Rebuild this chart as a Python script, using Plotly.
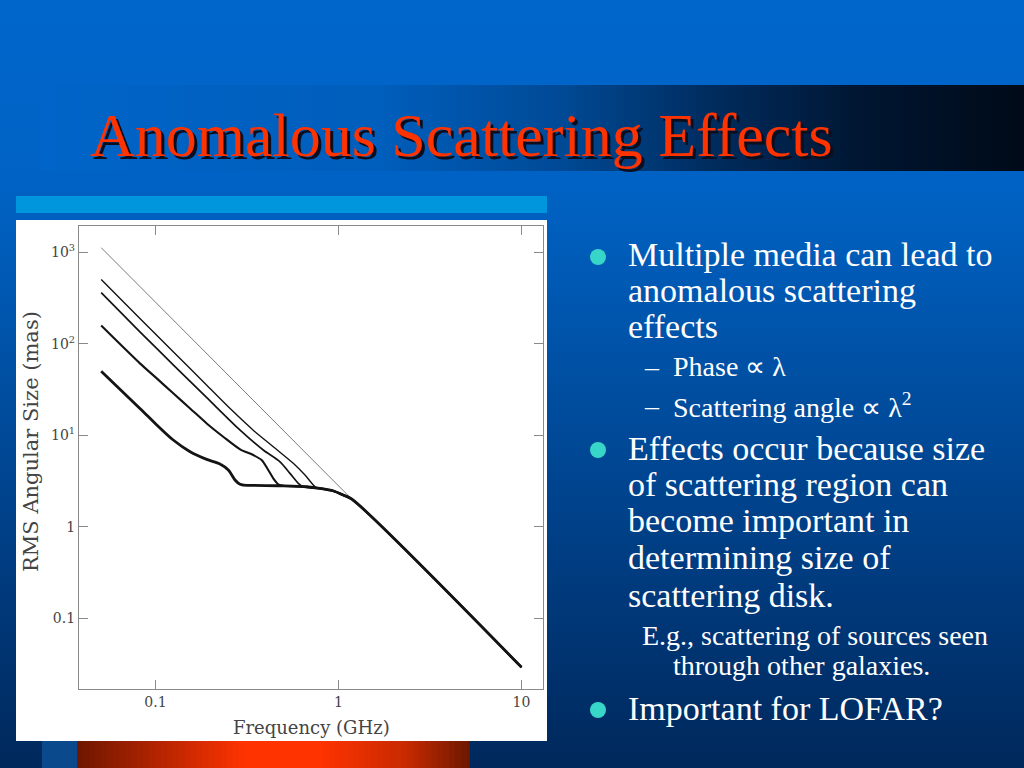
import plotly.graph_objects as go

W, H = 1024, 768

# ---------------- data ----------------
freq_gray = [0.0505, 1.18]
size_gray = [1120, 2.02]

freq_c2 = [0.0505, 0.0822, 0.125, 0.19, 0.26, 0.342, 0.44, 0.566, 0.656, 0.745, 0.79, 0.94, 1.06, 1.18, 10]
size_c2 = [502, 189, 82, 35.5, 19.0, 11.4, 7.52, 4.95, 3.69, 2.75, 2.64, 2.47, 2.23, 2.02, 0.0294]

freq_c3 = [0.0505, 0.0822, 0.125, 0.19, 0.29, 0.388, 0.479, 0.543, 0.603, 0.64, 0.79, 0.94, 1.06, 1.18, 10]
size_c3 = [361, 135, 59, 26, 11.4, 6.92, 5.15, 3.85, 3.0, 2.76, 2.64, 2.47, 2.23, 2.02, 0.0294]

freq_c4 = [0.0505, 0.0822, 0.1016, 0.125, 0.1546, 0.1905, 0.2345, 0.29, 0.342, 0.38, 0.413, 0.44, 0.469,
           0.5, 0.67, 0.79, 0.94, 1.06, 1.18, 10]
size_c4 = [158, 61.1, 41.9, 28.8, 19.7, 13.5, 9.67, 7.05, 6.10, 5.38, 4.19, 3.40, 2.92,
           2.82, 2.75, 2.64, 2.47, 2.23, 2.02, 0.0294]

freq_c5 = [0.0505, 0.0822, 0.1016, 0.125, 0.1546, 0.1905, 0.225, 0.25, 0.272, 0.29, 0.302, 0.479, 0.67,
           0.79, 0.94, 1.06, 1.18, 10]
size_c5 = [50, 19.7, 13.0, 8.9, 6.63, 5.47, 4.87, 4.19, 3.26, 2.92, 2.87, 2.82, 2.75,
           2.64, 2.47, 2.23, 2.02, 0.0294]

x_tickvals = [0.1, 1, 10]
x_ticktext = ["0.1", "1", "10"]
y_tickvals = [0.1, 1, 10, 100, 1000]
y_ticktext = ["0.1", "1", "10<sup>1</sup>", "10<sup>2</sup>", "10<sup>3</sup>"]

title_text = "Anomalous Scattering Effects"
x_title = "Frequency (GHz)"
y_title = "RMS Angular Size (mas)"

# bullet text: (text, left px, centre y px, font px)
text_lines = [
    ("Multiple media can lead to", 626, 254, 34),
    ("anomalous scattering", 626, 290, 34),
    ("effects", 626, 326, 34),
    ("Phase \u221d \u03bb", 671, 367, 28),
    ("Scattering angle \u221d \u03bb<sup>2</sup>", 671, 405, 28),
    ("Effects occur because size", 626, 448, 34),
    ("of scattering region can", 626, 484, 34),
    ("become important in", 626, 520, 34),
    ("determining size of", 626, 557, 34),
    ("scattering disk.", 626, 595, 34),
    ("E.g., scattering of sources seen", 640, 635, 28),
    ("through other galaxies.", 671, 665, 28),
    ("Important for LOFAR?", 626, 708, 34),
]
dash_rows = [367, 405]
bullet_rows = [257, 450, 710]


def px(x):
    return x / W


def py(y):
    return 1 - y / H


def lerp_color(stops, v):
    for (a, ca), (b, cb) in zip(stops[:-1], stops[1:]):
        if a <= v <= b:
            t = (v - a) / (b - a) if b > a else 0
            c = [round(ca[i] + (cb[i] - ca[i]) * t) for i in range(3)]
            return "rgb(%d,%d,%d)" % tuple(c)
    c = stops[-1][1] if v > stops[-1][0] else stops[0][1]
    return "rgb(%d,%d,%d)" % tuple(c)


shapes = []

# slide background: vertical gradient
bg_stops = [(0, (0, 102, 204)), (190, (0, 98, 196)), (768, (0, 40, 92))]
step = 8
for y in range(0, H, step):
    shapes.append(dict(type="rect", xref="paper", yref="paper", layer="below",
                       x0=0, x1=1, y0=py(min(H, y + step + 1)), y1=py(y),
                       line=dict(width=0), fillcolor=lerp_color(bg_stops, y + step / 2)))

# title band: horizontal gradient
band_stops = [(40, (0, 100, 200)), (380, (0, 94, 188)), (560, (0, 74, 150)),
              (700, (0, 46, 98)), (860, (0, 22, 50)), (1024, (0, 10, 24))]
for x in range(40, W, step):
    shapes.append(dict(type="rect", xref="paper", yref="paper", layer="below",
                       x0=px(x), x1=px(min(W, x + step + 1)), y0=py(171), y1=py(85),
                       line=dict(width=0), fillcolor=lerp_color(band_stops, x + step / 2)))

# light strip above the chart panel
shapes.append(dict(type="rect", xref="paper", yref="paper", layer="below",
                   x0=px(16), x1=px(547), y0=py(213), y1=py(196),
                   line=dict(width=0), fillcolor="rgb(0,150,222)"))

# blue block and orange bar under the panel
shapes.append(dict(type="rect", xref="paper", yref="paper", layer="below",
                   x0=px(42), x1=px(78), y0=0, y1=py(741),
                   line=dict(width=0), fillcolor="rgb(10,74,140)"))
bar_stops = [(77, (110, 22, 0)), (170, (190, 38, 0)), (245, (255, 51, 0)),
             (320, (255, 51, 0)), (405, (200, 42, 0)), (470, (108, 24, 0))]
for x in range(77, 470, 6):
    shapes.append(dict(type="rect", xref="paper", yref="paper", layer="below",
                       x0=px(x), x1=px(min(470, x + 7)), y0=0, y1=py(741),
                       line=dict(width=0), fillcolor=lerp_color(bar_stops, x + 3)))

# white chart panel
shapes.append(dict(type="rect", xref="paper", yref="paper", layer="below",
                   x0=px(16), x1=px(547), y0=py(741), y1=py(220),
                   line=dict(width=0), fillcolor="white"))

# bullets
for yb in bullet_rows:
    shapes.append(dict(type="circle", xref="paper", yref="paper", layer="above",
                       x0=px(590), x1=px(606), y0=py(yb + 8), y1=py(yb - 8),
                       line=dict(width=0), fillcolor="rgb(56,214,200)"))

annotations = []
# title with shadow
annotations.append(dict(text=title_text, x=px(91), y=py(138), xref="paper", yref="paper",
                        xanchor="left", yanchor="middle", showarrow=False,
                        font=dict(family="Liberation Serif", size=62, color="rgb(12,14,30)")))
annotations.append(dict(text=title_text, x=px(88), y=py(135), xref="paper", yref="paper",
                        xanchor="left", yanchor="middle", showarrow=False,
                        font=dict(family="Liberation Serif", size=62, color="rgb(255,51,0)")))

for txt, xl, yc, fs in text_lines:
    annotations.append(dict(text=txt, x=px(xl), y=py(yc), xref="paper", yref="paper",
                            xanchor="left", yanchor="middle", showarrow=False,
                            font=dict(family="Liberation Serif", size=fs, color="white")))
for yd in dash_rows:
    annotations.append(dict(text="\u2013", x=px(642), y=py(yd), xref="paper", yref="paper",
                            xanchor="left", yanchor="middle", showarrow=False,
                            font=dict(family="Liberation Serif", size=28, color="white")))

# axis titles
annotations.append(dict(text=x_title, x=px(311), y=py(727), xref="paper", yref="paper",
                        xanchor="center", yanchor="middle", showarrow=False,
                        font=dict(family="DejaVu Serif", size=18, color="#444")))
annotations.append(dict(text=y_title, x=px(31), y=py(442), xref="paper", yref="paper",
                        xanchor="center", yanchor="middle", showarrow=False, textangle=-90,
                        font=dict(family="DejaVu Serif", size=21, color="#444")))

fig = go.Figure()
fig.add_trace(go.Scatter(x=freq_gray, y=size_gray, mode="lines",
                         line=dict(color="#7c7c7c", width=1.0), hoverinfo="skip"))
for fx, sy, lw in [(freq_c2, size_c2, 1.4), (freq_c3, size_c3, 1.7),
                   (freq_c4, size_c4, 2.1), (freq_c5, size_c5, 2.8)]:
    fig.add_trace(go.Scatter(x=fx, y=sy, mode="lines",
                             line=dict(color="#141414", width=lw, shape="spline", smoothing=0.8),
                             hoverinfo="skip"))

axis_common = dict(type="log", showgrid=False, zeroline=False, showline=True, mirror="ticks",
                   linecolor="#8a8a8a", linewidth=1.3, ticks="inside", ticklen=9,
                   tickcolor="#8a8a8a", tickwidth=1.3,
                   tickfont=dict(family="DejaVu Serif", size=14, color="#444"))

fig.update_layout(
    width=W, height=H, autosize=False,
    margin=dict(l=0, r=0, t=0, b=0),
    paper_bgcolor="rgb(0,102,204)",
    plot_bgcolor="rgba(0,0,0,0)",
    showlegend=False,
    xaxis=dict(axis_common, domain=[px(79), px(543)], range=[-1.418, 1.1175],
               tickvals=x_tickvals, ticktext=x_ticktext),
    yaxis=dict(axis_common, domain=[py(689), py(226)], range=[-1.769, 3.286],
               tickvals=y_tickvals, ticktext=y_ticktext),
    shapes=shapes,
    annotations=annotations,
)

fig.write_html("out.html", config={"displayModeBar": False},
               post_script="document.body.style.margin='0';document.body.style.overflow='hidden';")
